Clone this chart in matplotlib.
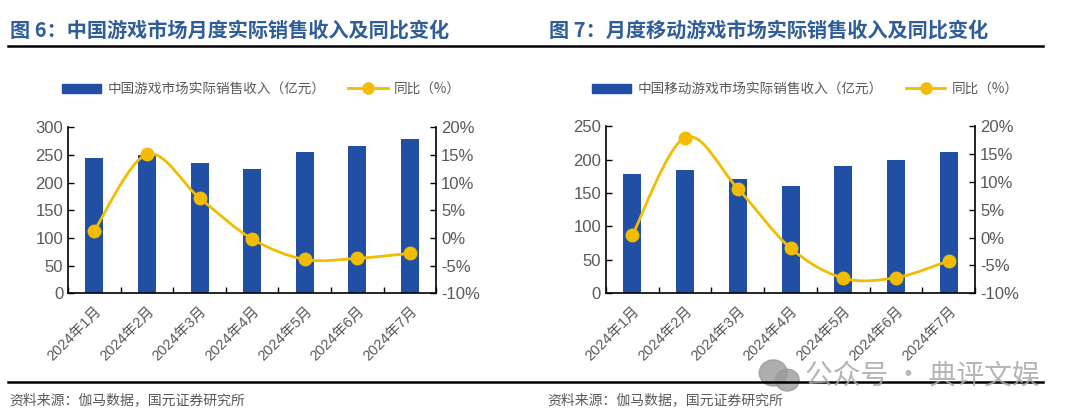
import matplotlib
matplotlib.use('Agg')
import matplotlib.pyplot as plt
from matplotlib.path import Path
from matplotlib.patches import PathPatch, Ellipse
from matplotlib.lines import Line2D
from matplotlib.patches import Patch
import numpy as np

plt.rcParams['font.family'] = ['Liberation Sans', 'Noto Sans CJK SC', 'DejaVu Sans']

months = ['2024年1月', '2024年2月', '2024年3月', '2024年4月', '2024年5月', '2024年6月', '2024年7月']

# 图6：中国游戏市场
game_rev = [244, 250, 235, 225, 256, 267, 278]
game_yoy = [1.3, 15.1, 7.2, -0.2, -3.9, -3.7, -2.8]

# 图7：移动游戏市场
mobile_rev = [178, 184, 171, 160, 190, 199, 212]
mobile_yoy = [0.4, 18.0, 8.8, -1.9, -7.3, -7.2, -4.2]

BAR = '#214FA3'
LINE = '#F2BC00'
GRAY = '#595959'
TITLE = '#2F5D9B'
CJK = ['Noto Sans CJK SC', 'DejaVu Sans']


def smooth_path(xs, ys):
    # Catmull-Rom as cubic bezier segments, like Excel's smoothed line
    pts = list(zip(xs, ys))
    verts = [pts[0]]
    codes = [Path.MOVETO]
    n = len(pts)
    for i in range(n - 1):
        p0 = pts[i - 1] if i > 0 else pts[i]
        p1 = pts[i]
        p2 = pts[i + 1]
        p3 = pts[i + 2] if i + 2 < n else pts[i + 1]
        c1 = (p1[0] + (p2[0] - p0[0]) / 6, p1[1] + (p2[1] - p0[1]) / 6)
        c2 = (p2[0] - (p3[0] - p1[0]) / 6, p2[1] - (p3[1] - p1[1]) / 6)
        verts += [c1, c2, p2]
        codes += [Path.CURVE4] * 3
    return Path(verts, codes)


def panel(fig, rect, rev, yoy, ymax, ystep, bar_label, legend_x):
    ax = fig.add_axes(rect)
    x = np.arange(len(months))
    ax.bar(x, rev, width=0.34, color=BAR, zorder=2)
    ax.set_xlim(-0.5, len(months) - 0.5)
    ax.set_ylim(0, ymax)
    ax.set_yticks(np.arange(0, ymax + 1, ystep))
    ax.set_xticks(x)
    ax.set_xticklabels(months, rotation=45, ha='right', rotation_mode='anchor',
                       fontsize=10.5, color=GRAY)
    ax.set_xticks(np.arange(-0.5, len(months)), minor=True)
    ax.tick_params(axis='x', which='major', length=0, pad=8)
    ax.tick_params(axis='x', which='minor', direction='in', length=4, width=1)
    ax.tick_params(axis='y', direction='in', length=4, width=1, labelsize=12, labelcolor=GRAY)
    for s in ['top', 'right']:
        ax.spines[s].set_visible(False)
    for s in ['left', 'bottom']:
        ax.spines[s].set_linewidth(1.2)

    ax2 = ax.twinx()
    ax2.set_ylim(-10, 20)
    ax2.set_yticks(np.arange(-10, 21, 5))
    ax2.set_yticklabels([f'{v}%' for v in range(-10, 21, 5)])
    ax2.tick_params(axis='y', direction='in', length=4, width=1, labelsize=12, labelcolor=GRAY)
    for s in ['top', 'left', 'bottom']:
        ax2.spines[s].set_visible(False)
    ax2.spines['right'].set_linewidth(1.2)
    ax2.add_patch(PathPatch(smooth_path(x, yoy), facecolor='none', edgecolor=LINE, lw=2, zorder=3))
    ax2.plot(x, yoy, 'o', color=LINE, ms=9, zorder=4)

    handles = [Patch(color=BAR), Line2D([0], [0], color=LINE, lw=2, marker='o', ms=8)]
    fig.legend(handles, [bar_label, '同比（%）'], ncol=2, loc='center left',
               bbox_to_anchor=(legend_x, 0.788), frameon=False, handlelength=2.9,
               handleheight=0.6, columnspacing=1.7, handletextpad=0.45,
               borderpad=0, borderaxespad=0,
               prop={'family': CJK, 'size': 9.8}, labelcolor=GRAY)
    return ax


fig = plt.figure(figsize=(10.8, 4.2), dpi=100)

panel(fig, [0.063, 0.302, 0.341, 0.395], game_rev, game_yoy, 300, 50,
      '中国游戏市场实际销售收入（亿元）', 0.057)
panel(fig, [0.561, 0.302, 0.342, 0.397], mobile_rev, mobile_yoy, 250, 50,
      '中国移动游戏市场实际销售收入（亿元）', 0.548)

fig.text(0.009, 0.928, '图 6：中国游戏市场月度实际销售收入及同比变化', family=CJK,
         fontsize=14.5, fontweight='bold', color=TITLE, va='center')
fig.text(0.508, 0.928, '图 7：月度移动游戏市场实际销售收入及同比变化', family=CJK,
         fontsize=14.5, fontweight='bold', color=TITLE, va='center')

fig.add_artist(Line2D([0.007, 0.966], [0.890, 0.890], color='black', lw=1.8))
fig.add_artist(Line2D([0.007, 0.966], [0.091, 0.091], color='black', lw=1.8))

fig.text(0.009, 0.047, '资料来源：伽马数据，国元证券研究所', family=CJK, fontsize=10, color=GRAY, va='center')
fig.text(0.507, 0.047, '资料来源：伽马数据，国元证券研究所', family=CJK, fontsize=10, color=GRAY, va='center')

# watermark
fig.add_artist(Ellipse((0.716, 0.112), 0.026, 0.062, color='#9A9A9A', alpha=0.8))
fig.add_artist(Ellipse((0.729, 0.095), 0.022, 0.052, color='#9A9A9A', alpha=0.8))
fig.text(0.745, 0.103, '公众号 · 典评文娱', family=CJK, fontsize=20, color='#A8A8A8',
         alpha=0.85, va='center')

fig.savefig('out.png', dpi=100)
